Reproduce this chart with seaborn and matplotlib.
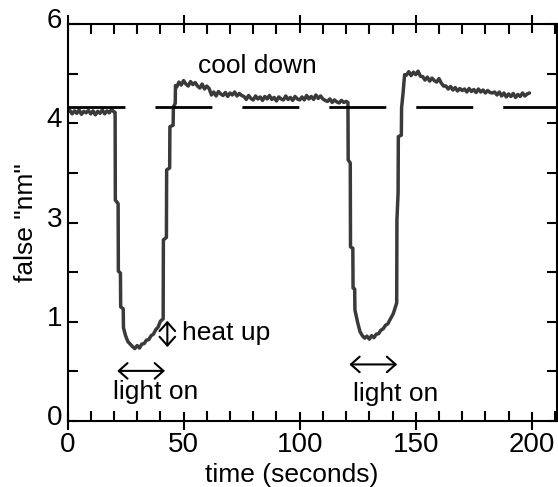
import numpy as np
import pandas as pd
import matplotlib
matplotlib.use('Agg')
import matplotlib.pyplot as plt
import seaborn as sns
from matplotlib.ticker import MultipleLocator
from matplotlib.transforms import ScaledTranslation

# Sinal (eixo y em unidades de marca: 0..8, rotulos 0,1,3,4,6)

# linha de base antes da luz
t_base = np.arange(0, 21)
y_base = [6.22, 6.26, 6.19, 6.25, 6.20, 6.27, 6.18, 6.24, 6.21, 6.26, 6.19,
          6.25, 6.17, 6.24, 6.20, 6.27, 6.19, 6.25, 6.21, 6.28, 6.23]

# primeira queda (luz ligada) e subida
t_drop1 = [20.5, 20.6, 21.8, 21.9, 22.8, 22.9, 24.0, 24.1, 25, 26, 27, 28, 29, 30,
           31, 32, 33, 34, 35, 36, 37, 38, 39, 40, 41.2, 41.3, 42.6, 42.7, 44.0,
           44.1, 45.5, 45.6, 46.4, 46.5]
y_drop1 = [6.22, 4.45, 4.38, 3.02, 2.98, 2.30, 2.26, 1.88, 1.72, 1.60, 1.55, 1.50,
           1.46, 1.52, 1.47, 1.55, 1.56, 1.63, 1.64, 1.72, 1.75, 1.84, 1.89, 2.01,
           2.06, 3.65, 3.70, 5.06, 5.10, 5.93, 5.96, 6.33, 6.40, 6.76]

# resfriamento 1
t_cool1 = np.arange(47, 121)
y_cool1 = [6.73, 6.83, 6.77, 6.86, 6.79, 6.75, 6.84, 6.78, 6.82,
           6.75, 6.71, 6.79, 6.69, 6.75, 6.70,
           6.57, 6.63, 6.55, 6.64, 6.59, 6.56, 6.62, 6.54, 6.61, 6.57, 6.63, 6.55, 6.60, 6.56,
           6.54, 6.48, 6.56, 6.50, 6.47, 6.55, 6.49, 6.53, 6.46, 6.54, 6.49, 6.56, 6.48,
           6.52, 6.45, 6.53, 6.49, 6.47, 6.55, 6.48, 6.52, 6.46, 6.54, 6.49, 6.47,
           6.53, 6.47, 6.56, 6.49, 6.54, 6.48, 6.57, 6.50, 6.55, 6.49, 6.46, 6.44, 6.49,
           6.42, 6.47, 6.43, 6.41, 6.46, 6.42, 6.44]

# segunda queda e subida
t_drop2 = [120.8, 120.9, 121.8, 121.9, 122.9, 123.0, 123.7, 123.8, 125, 126, 127, 128,
           129, 130, 131, 132, 133, 134, 135, 136, 137, 138, 139, 140.3, 141.8, 141.9,
           142.4, 142.5, 143.8, 143.9, 144.6, 145.2]
y_drop2 = [6.42, 5.26, 5.20, 3.51, 3.48, 2.68, 2.66, 2.24, 1.98, 1.80, 1.72, 1.67,
           1.71, 1.65, 1.72, 1.68, 1.75, 1.76, 1.83, 1.86, 1.93, 1.96, 2.05, 2.16, 2.38,
           4.05, 4.60, 5.73, 5.76, 6.31, 6.64, 6.98]

# resfriamento 2
t_cool2 = np.arange(146, 200)
y_cool2 = [6.97, 7.04, 6.96, 7.03, 6.98, 7.05, 6.95,
           6.94, 6.87, 6.93, 6.85, 6.91, 6.86, 6.83, 6.90,
           6.81, 6.75, 6.75, 6.69, 6.74, 6.67, 6.72, 6.65, 6.70, 6.66,
           6.69, 6.63, 6.70, 6.64, 6.68, 6.62, 6.69, 6.63, 6.67, 6.61, 6.66, 6.62,
           6.61, 6.63, 6.57, 6.63, 6.55, 6.61, 6.53, 6.59, 6.54, 6.60, 6.52, 6.58,
           6.54, 6.61, 6.55, 6.59, 6.61]

dash_level = 6.32
y_tick_labels = ['0', '', '1', '', '3', '', '4', '', '6']

df = pd.DataFrame({
    'time': np.concatenate([t_base, t_drop1, t_cool1, t_drop2, t_cool2]),
    'signal': np.concatenate([y_base, y_drop1, y_cool1, y_drop2, y_cool2]),
})

sns.set_style('ticks')
plt.rcParams['font.family'] = ['Liberation Sans', 'DejaVu Sans']
plt.rcParams['lines.scale_dashes'] = False
for k in ['text.color', 'axes.labelcolor', 'xtick.color', 'ytick.color', 'axes.edgecolor']:
    plt.rcParams[k] = 'black'

fig = plt.figure(figsize=(5.58, 4.87), dpi=100)
ax = fig.add_axes([0.121, 0.1355, 0.877, 0.8152])

sns.lineplot(data=df, x='time', y='signal', sort=False, estimator=None,
             color='#3a3a3a', linewidth=2.5, ax=ax)
ax.plot([0, 211], [dash_level, dash_level], color='black', lw=2.0,
        dashes=(41, 21.6), zorder=3)

# anotacoes
ax.text(81.8, 7.02, 'cool down', fontsize=19, ha='center', va='baseline')
ax.text(49.2, 1.63, 'heat up', fontsize=19, ha='left', va='baseline')
ax.text(38, 0.44, 'light on', fontsize=19, ha='center', va='baseline')
ax.text(141.4, 0.40, 'light on', fontsize=19, ha='center', va='baseline')

arrow = dict(arrowstyle='<->,head_length=0.45,head_width=0.4', lw=1.5,
             color='black', shrinkA=0, shrinkB=0, mutation_scale=14)
ax.annotate('', xy=(43, 1.49), xytext=(43, 2.02), arrowprops=arrow)
ax.annotate('', xy=(21.4, 1.01), xytext=(42.0, 1.01), arrowprops=arrow)
ax.annotate('', xy=(121.4, 1.14), xytext=(142.0, 1.14), arrowprops=arrow)

ax.set_xlim(0, 210.8)
ax.set_ylim(0, 8)
ax.xaxis.set_major_locator(MultipleLocator(50))
ax.xaxis.set_minor_locator(MultipleLocator(10))
ax.set_yticks(range(9))
ax.set_yticklabels(y_tick_labels)

ax.tick_params(axis='x', which='major', direction='inout', length=12.5, width=1.5,
               top=True, labelsize=20, pad=2)
ax.tick_params(axis='x', which='minor', direction='in', length=7.2, width=1.5, top=True)
ax.tick_params(axis='y', which='major', direction='in', length=7.2, width=1.5,
               right=True, labelsize=20, pad=4)
for s in ax.spines.values():
    s.set_linewidth(1.5)

for lbl in ax.get_yticklabels():
    lbl.set_transform(lbl.get_transform() + ScaledTranslation(0, 0.06, fig.dpi_scale_trans))

ax.set_xlabel('time (seconds)', fontsize=19)
ax.set_ylabel('false "nm"', fontsize=19, labelpad=6)
ax.xaxis.set_label_coords(0.459, -0.105)

fig.savefig('out.png', dpi=100)
